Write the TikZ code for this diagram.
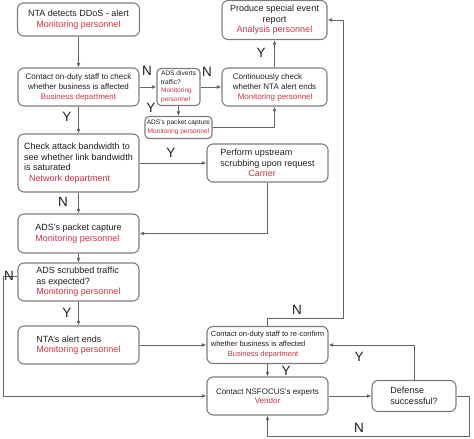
\documentclass[tikz,border=0pt]{standalone}
\usepackage{fontspec}
\setmainfont{Liberation Sans}
\usetikzlibrary{arrows.meta}
\definecolor{rolered}{RGB}{205,50,65}
\definecolor{boxgray}{RGB}{125,125,125}
\definecolor{linegray}{RGB}{100,100,100}
\definecolor{txtgray}{RGB}{30,30,30}
\newcommand{\who}[1]{{\color{rolered}#1}}
\begin{document}
\begin{tikzpicture}[x=1pt, y=-1pt, line join=round, >={Latex[length=4.5pt,width=4pt]},
	box/.style={draw=boxgray, line width=1.1pt, rounded corners=6pt, text=txtgray, inner sep=1pt, font=\fontsize{9}{10.5}\selectfont},
	tiny/.style={box, rounded corners=4pt, inner sep=0.5pt, font=\fontsize{6.6}{8.5}\selectfont},
	yn/.style={text=txtgray, inner sep=0pt, font=\fontsize{13.5}{14}\selectfont},
	flow/.style={->, draw=linegray, line width=0.9pt}]
	\useasboundingbox (0,0) rectangle (474,439);
	% left column
	\node[box, minimum width=122, minimum height=33, align=center] (detect) at (78.5,19.5) {NTA detects DDoS - alert\\\who{Monitoring personnel}};
	\node[box, minimum width=121, minimum height=38, align=center, font=\fontsize{8}{10}\selectfont] (contact) at (78.5,87) {Contact on-duty staff to check\\whether business is affected\\\who{Business department}};
	\node[box, minimum width=121, minimum height=58, align=left] (bandw) at (78.5,163) {Check attack bandwidth to\\see whether link bandwidth\\is saturated\\\hspace*{5pt}\who{Network department}};
	\node[box, minimum width=121, minimum height=39, align=left] (capture) at (78.5,233.5) {ADS's packet capture\\\who{Monitoring personnel}};
	\node[box, minimum width=121, minimum height=38, align=left] (scrub) at (78.5,282) {ADS scrubbed traffic\\as expected?\\\who{Monitoring personnel}};
	\node[box, minimum width=121, minimum height=38, align=left] (alertend) at (78.5,345) {NTA's alert ends\\\who{Monitoring personnel}};
	% middle and right
	\node[tiny, minimum width=43, minimum height=37, align=left] (divert) at (178.5,87) {ADS diverts\\traffic?\\\who{Monitoring}\\\who{personnel}};
	\node[tiny, minimum width=67, minimum height=22, align=center] (capsmall) at (178.5,127.5) {ADS's packet capture\\\who{Monitoring personnel}};
	\node[box, minimum width=105, minimum height=38, align=left, font=\fontsize{8}{10}\selectfont] (watch) at (274.5,87) {Continuously check\\whether NTA alert ends\\\hspace*{5pt}\who{Monitoring personnel}};
	\node[box, minimum width=105, minimum height=39, align=center] (report) at (274.5,20) {Produce special event\\report\\\who{Analysis personnel}};
	\node[box, minimum width=121, minimum height=38, align=left] (upstream) at (267.5,163) {Perform upstream\\scrubbing upon request\\\hspace*{28pt}\who{Carrier}};
	\node[box, minimum width=121, minimum height=37, align=left, font=\fontsize{7.5}{10}\selectfont] (reconf) at (267.5,345) {Contact on-duty staff to re-confirm\\whether business is affected\\\hspace*{17pt}\who{Business department}};
	\node[box, minimum width=121, minimum height=38, align=center, font=\fontsize{8}{9.5}\selectfont] (vendor) at (267.5,396) {Contact NSFOCUS's experts\\\who{Vendor}};
	\node[box, minimum width=84, minimum height=31, align=left] (defense) at (414,396) {Defense\\successful?};
	\coordinate (upturn) at (343,318);
	\coordinate (loopend) at (469,436);
	\coordinate (leftend) at (3,396);
	% connectors
	\draw[flow] (detect) -- (contact);
	\draw[flow] (contact) -- (divert);
	\draw[flow] (divert) -- (watch);
	\draw[flow] (divert) -- (capsmall);
	\draw[flow] (capsmall.east) -| (watch.south);
	\draw[flow] (watch) -- (report);
	\draw[flow] (contact) -- (bandw);
	\draw[flow] (bandw) -- (upstream);
	\draw[flow] (bandw) -- (capture);
	\draw[flow] (upstream.south) |- (capture.east);
	\draw[flow] (capture) -- (scrub);
	\draw[flow] (scrub) -- (alertend);
	\draw[flow] ([yshift=6pt]scrub.west) -| (leftend) -- (vendor.west);
	\draw[flow] (alertend) -- (reconf);
	\draw[flow] (reconf) -- (vendor);
	\draw[flow] (vendor) -- (defense);
	\draw[flow] (defense.north) |- (reconf.east);
	\draw[flow] (defense.east) -| (loopend) -| (vendor.south);
	\draw[flow] (reconf.north) |- (upturn) |- (report.east);
	% Y / N labels
	\node[yn] (nA) at (147,71) {N};
	\node[yn] (nB) at (207,72) {N};
	\node[yn] (yA) at (151,108) {Y};
	\node[yn] (yB) at (261,53) {Y};
	\node[yn] (yC) at (67,117) {Y};
	\node[yn] (yD) at (171,153) {Y};
	\node[yn] (nC) at (63,202) {N};
	\node[yn] (nD) at (9,276) {N};
	\node[yn] (yE) at (67,313) {Y};
	\node[yn] (nE) at (297,310) {N};
	\node[yn] (yF) at (286,371) {Y};
	\node[yn] (yG) at (359,357) {Y};
	\node[yn] (nF) at (359,428) {N};
\end{tikzpicture}
\end{document}
